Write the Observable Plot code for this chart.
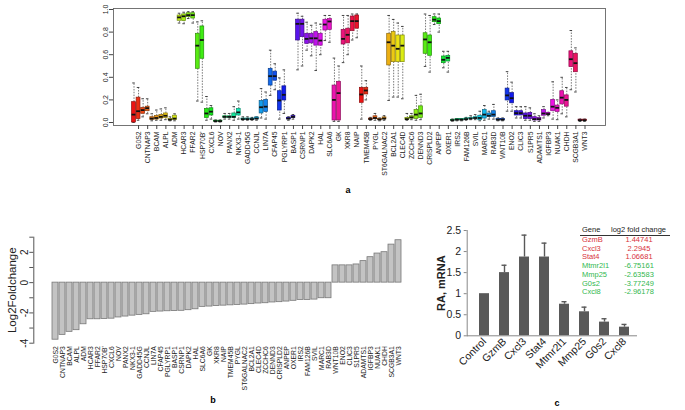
<!DOCTYPE html>
<html>
<head>
<meta charset="utf-8">
<script src="https://cdn.jsdelivr.net/npm/d3@7"></script>
<script src="https://cdn.jsdelivr.net/npm/@observablehq/plot@0.6"></script>
<style>
  body { margin: 0; background: #fff; }
  #fig { position: relative; width: 685px; height: 410px; overflow: hidden; background: #fff; font-family: "Liberation Sans", Arial, sans-serif; }
  #fig svg { position: absolute; overflow: visible; }
  .plab { position: absolute; font-weight: bold; font-size: 9px; transform: translate(-50%, -50%); }
  #tbl { position: absolute; font-size: 7.5px; }
  #tbl div { position: absolute; white-space: nowrap; transform: translateY(-50%); }
</style>
</head>
<body>
<div id="fig"></div>
<script>
// ---------- DATA ----------
const genes = ["G0S2","CNTNAP3","BCAM","ALPL","ADM","HCAR3","FFAR2","HSP70B'","CXCL6","NOV",
  "PANX2","NKX3-1","GADD45G","CCNJL","LIN7A","CFAP45","PGLYRP1","BASP1","CSRNP1","DAPK2",
  "HAL","SLC6A6","GK","XKR8","NAIP","TMEM45B","PYGL","ST6GALNAC2","BCL2A1","CLEC4D",
  "ZCCHC6","DENND3","CRISPLD2","ANPEP","OXER1","IRS2","FAM126B","SVIL","MARC1","RAB3D",
  "WNT10B","ENO2","CLIC3","S1PR5","ADAMTS1","IGFBP3","NUAK1","CHDH","SCGB3A1","WNT3"];

// panel a: box statistics, two boxes per gene (100 boxes)
const boxLo  = [0.00,0.02,0.05,0.077,0.015,0.02,0.02,0.025,0.015,0.015,
  0.88,0.874,0.92,0.88,0.19,0.18,0.02,0.03,0.005,0.005,
  0.03,0.03,0.02,0.03,0.02,0.02,0.02,0.02,0.04,0.03,
  0.24,0.29,0.03,0.08,0.02,0.03,0.466,0.50,0.64,0.59,
  0.46,0.60,0.725,0.71,0.01,0.01,0.53,0.60,0.73,0.75,
  0.03,0.20,0.02,0.02,0.015,0.02,0.195,0.225,0.225,0.21,
  0.02,0.025,0.02,0.025,0.496,0.446,0.867,0.80,0.484,0.446,
  0.012,0.015,0.015,0.02,0.025,0.025,0.015,0.02,0.03,0.03,
  0.015,0.015,0.10,0.10,0.04,0.04,0.02,0.02,0.01,0.01,
  0.04,0.06,0.03,0.025,0.077,0.05,0.29,0.27,0.01,0.01];
const boxQ1  = [0.00,0.03,0.077,0.10,0.024,0.026,0.035,0.04,0.02,0.022,
  0.90,0.897,0.932,0.92,0.475,0.564,0.04,0.062,0.008,0.008,
  0.042,0.042,0.04,0.062,0.025,0.025,0.025,0.028,0.08,0.093,
  0.327,0.37,0.106,0.195,0.028,0.04,0.726,0.755,0.696,0.70,
  0.68,0.68,0.814,0.82,0.018,0.018,0.69,0.70,0.808,0.83,
  0.174,0.248,0.025,0.03,0.022,0.028,0.505,0.534,0.534,0.534,
  0.025,0.035,0.032,0.04,0.608,0.59,0.888,0.87,0.525,0.54,
  0.016,0.02,0.02,0.025,0.03,0.033,0.02,0.035,0.05,0.05,
  0.02,0.02,0.195,0.17,0.062,0.062,0.03,0.03,0.018,0.018,
  0.06,0.068,0.10,0.093,0.16,0.14,0.49,0.445,0.015,0.015];
const boxMed = [0.07,0.10,0.11,0.127,0.035,0.04,0.05,0.06,0.025,0.035,
  0.93,0.94,0.95,0.95,0.68,0.73,0.08,0.096,0.012,0.012,
  0.05,0.05,0.05,0.09,0.03,0.03,0.03,0.035,0.135,0.14,
  0.41,0.41,0.195,0.245,0.035,0.05,0.873,0.873,0.74,0.745,
  0.745,0.725,0.867,0.894,0.20,0.26,0.74,0.776,0.897,0.897,
  0.248,0.283,0.03,0.04,0.027,0.035,0.71,0.68,0.652,0.68,
  0.03,0.045,0.07,0.08,0.735,0.71,0.91,0.897,0.555,0.572,
  0.02,0.025,0.025,0.03,0.035,0.04,0.04,0.07,0.06,0.07,
  0.025,0.025,0.24,0.215,0.083,0.083,0.06,0.06,0.03,0.03,
  0.08,0.075,0.14,0.13,0.22,0.20,0.56,0.525,0.02,0.02];
const boxQ3  = [0.18,0.22,0.13,0.14,0.047,0.058,0.067,0.08,0.03,0.06,
  0.947,0.957,0.967,0.967,0.785,0.85,0.12,0.126,0.016,0.016,
  0.055,0.055,0.08,0.12,0.035,0.035,0.035,0.045,0.19,0.20,
  0.475,0.45,0.277,0.32,0.042,0.058,0.91,0.91,0.785,0.785,
  0.80,0.785,0.909,0.915,0.327,0.36,0.82,0.83,0.938,0.947,
  0.307,0.307,0.035,0.055,0.032,0.045,0.785,0.80,0.77,0.77,
  0.04,0.055,0.11,0.143,0.79,0.77,0.932,0.92,0.584,0.59,
  0.024,0.03,0.03,0.036,0.04,0.047,0.06,0.11,0.08,0.10,
  0.03,0.03,0.30,0.26,0.10,0.10,0.08,0.085,0.047,0.04,
  0.11,0.085,0.20,0.15,0.277,0.24,0.63,0.608,0.025,0.025];
const boxHi  = [0.35,0.31,0.21,0.21,0.077,0.11,0.12,0.13,0.05,0.077,
  0.967,0.976,0.98,0.98,0.89,0.90,0.23,0.15,0.022,0.022,
  0.08,0.08,0.14,0.19,0.05,0.05,0.045,0.05,0.30,0.27,
  0.64,0.52,0.395,0.466,0.05,0.07,0.967,0.94,0.887,0.86,
  0.88,0.87,0.947,0.947,0.57,0.50,0.947,0.947,0.96,0.96,
  0.50,0.37,0.045,0.08,0.04,0.06,0.947,0.912,0.88,0.85,
  0.08,0.08,0.24,0.25,0.96,0.947,0.96,0.96,0.63,0.63,
  0.03,0.035,0.035,0.045,0.06,0.07,0.10,0.15,0.10,0.16,
  0.04,0.04,0.45,0.357,0.14,0.14,0.14,0.13,0.077,0.06,
  0.14,0.09,0.36,0.20,0.40,0.31,0.814,0.66,0.03,0.03];

// panel b: log2 fold change per gene
const log2fc = [-3.77,-3.45,-3.25,-3.14,-2.75,-2.42,-2.42,-2.40,-2.38,-2.30,
  -2.24,-2.18,-2.13,-2.09,-1.93,-1.91,-1.89,-1.88,-1.86,-1.82,
  -1.76,-1.60,-1.58,-1.54,-1.52,-1.50,-1.47,-1.45,-1.42,-1.38,
  -1.36,-1.31,-1.29,-1.25,-1.20,-1.14,-1.14,-1.12,-1.03,-1.03,
  1.14,1.14,1.14,1.20,1.42,1.68,1.92,2.01,2.51,2.80];

// panel c: qPCR relative mRNA
const qpcrGenes = ["Control","GzmB","Cxcl3","Stat4","Mtmr2l1","Mmp25","G0s2","Cxcl8"];
const qpcrMean  = [1.00,1.50,1.87,1.87,0.75,0.57,0.325,0.205];
const qpcrErrHi = [null,1.675,2.39,2.20,0.81,0.68,0.405,0.27];
const yTicksC   = [0,0.5,1,1.5,2,2.5];

// panel c inset table
const tableGenes = ["GzmB","Cxcl3","Stat4","Mtmr2l1","Mmp25","G0s2","Cxcl8"];
const tableFC    = ["1.44741","2.2945","1.06681","-6.75161","-2.63583","-3.77249","-2.96178"];

// ---------- BUILD ----------
const FONT = "Liberation Sans, Arial, sans-serif";
const fig = document.getElementById("fig");
function place(svg, left, top) { svg.style.left = left + "px"; svg.style.top = top + "px"; fig.appendChild(svg); }

// Panel a
const boxes = boxLo.map((lo, i) => {
  const hue = ((i) / 50 * 360) % 360;
  return {j: i + 1, lo, q1: boxQ1[i], med: boxMed[i], q3: boxQ3[i], hi: boxHi[i],
    fill: d3.hsl(hue, 0.85, 0.5).formatHex(), stroke: d3.hsl(hue, 0.85, 0.3).formatHex()};
});
const hw = 0.42, cw = 0.28;
const plotA = Plot.plot({
  width: 685, height: 200,
  marginLeft: 113, marginRight: 80, marginTop: 8, marginBottom: 75,
  x: {domain: [-3.5, 104.5]},
  y: {domain: [-0.0265, 1.0088]},
  color: {type: "identity"},
  style: {fontFamily: FONT, background: "transparent", color: "#222"},
  marks: [
    Plot.ruleX(boxes, {x: "j", y1: "q3", y2: "hi", stroke: "#555", strokeWidth: 0.8, strokeDasharray: "1.5,1.3"}),
    Plot.ruleX(boxes, {x: "j", y1: "lo", y2: "q1", stroke: "#555", strokeWidth: 0.8, strokeDasharray: "1.5,1.3"}),
    Plot.ruleY(boxes, {y: "hi", x1: d => d.j - cw, x2: d => d.j + cw, stroke: "#333", strokeWidth: 0.9}),
    Plot.ruleY(boxes, {y: "lo", x1: d => d.j - cw, x2: d => d.j + cw, stroke: "#333", strokeWidth: 0.9}),
    Plot.rect(boxes, {x1: d => d.j - hw, x2: d => d.j + hw, y1: "q1", y2: "q3", fill: "fill", stroke: "stroke", strokeWidth: 0.7}),
    Plot.ruleY(boxes, {y: "med", x1: d => d.j - hw, x2: d => d.j + hw, stroke: "#111", strokeWidth: 1.8}),
    Plot.frame({stroke: "#666", strokeWidth: 0.9}),
    Plot.axisY({ticks: [0, 0.2, 0.4, 0.6, 0.8, 1.0], tickFormat: d3.format(".1f"), tickRotate: -90,
      tickSize: 4, tickPadding: 2, fontSize: 7, label: null, stroke: "#444"}),
    Plot.axisX({ticks: genes.map((g, i) => 2 * i + 2), tickFormat: (d) => genes[d / 2 - 1], tickRotate: -90,
      tickSize: 4, tickPadding: 2, fontSize: 6.8, label: null, stroke: "#444"})
  ]
});
place(plotA, 0, 0);

// Panel b
const fcData = genes.map((g, i) => ({gene: g, v: log2fc[i]}));
const plotB = Plot.plot({
  width: 420, height: 210,
  marginLeft: 33.3, marginRight: 13, marginTop: 36.7, marginBottom: 67.3,
  x: {type: "band", domain: genes, range: [46.1, 407.1], paddingInner: 0.17, paddingOuter: 0.085},
  y: {domain: [-4, 3]},
  style: {fontFamily: FONT, background: "transparent", color: "#222"},
  marks: [
    Plot.barY(fcData, {x: "gene", y: "v", fill: "#c3c3c3", stroke: "#777", strokeWidth: 0.8}),
    Plot.frame({anchor: "left", stroke: "#555"}),
    Plot.axisY({ticks: d3.range(-4, 4), tickFormat: d => (d % 2 === 0 ? d : ""), tickRotate: -90,
      tickSize: 4, tickPadding: 2, fontSize: 10, label: null, stroke: "#555"}),
    Plot.axisX({tickSize: 0, tickRotate: -90, tickPadding: 3, fontSize: 6.8, label: null}),
    Plot.text(["Log2Foldchange"], {frameAnchor: "left", textAnchor: "middle", rotate: -90, dx: -21, fontSize: 11.5, fill: "#222"})
  ]
});
place(plotB, 0, 200);

// Panel c
const qData = qpcrGenes.map((g, i) => ({cat: g, v: qpcrMean[i], err: qpcrErrHi[i]}));
const qErr = qData.filter(d => d.err != null);
const plotC = Plot.plot({
  width: 265, height: 210,
  marginLeft: 46.7, marginRight: 48, marginTop: 30, marginBottom: 74.7,
  x: {type: "band", domain: qpcrGenes, range: [52.2, 216.2], paddingInner: 0.49, paddingOuter: 0.245},
  y: {domain: [0, 2.5]},
  style: {fontFamily: FONT, background: "transparent", color: "#222"},
  marks: [
    Plot.barY(qData, {x: "cat", y: "v", fill: "#595959"}),
    Plot.ruleX(qErr, {x: "cat", y1: "v", y2: "err", stroke: "#595959", strokeWidth: 1.4}),
    Plot.tickY(qErr, {x: "cat", y: "err", stroke: "#595959", strokeWidth: 1.4, insetLeft: 2.5, insetRight: 2.5}),
    Plot.ruleY([0], {stroke: "#888"}),
    Plot.frame({anchor: "left", stroke: "#888"}),
    Plot.axisY({ticks: yTicksC, tickFormat: d => String(d), tickSize: 3, tickPadding: 3, fontSize: 10.5, label: null, stroke: "#888"}),
    Plot.axisX({tickSize: 0, tickRotate: -45, tickPadding: 4, fontSize: 10.5, label: null}),
    Plot.text(["RA, mRNA"], {frameAnchor: "left", textAnchor: "middle", rotate: -90, dx: -26, fontSize: 11, fontWeight: "bold", fill: "#222"})
  ]
});
place(plotC, 420, 200);

// Inset table in panel c
const tbl = document.createElement("div");
tbl.id = "tbl";
tbl.style.left = "0px"; tbl.style.top = "0px";
function cell(txt, x, y, color, align) {
  const d = document.createElement("div");
  d.textContent = txt;
  d.style.top = y + "px";
  d.style.color = color;
  if (align === "center") { d.style.left = x + "px"; d.style.transform = "translate(-50%,-50%)"; }
  else d.style.left = x + "px";
  tbl.appendChild(d);
}
cell("Gene", 582, 229, "#222");
cell("log2 fold change", 638.5, 229, "#222", "center");
const rule = document.createElement("div");
rule.style.cssText = "left:580px;top:234.5px;width:90px;height:0;border-top:0.8px solid #333;transform:none;";
tbl.appendChild(rule);
tableGenes.forEach((g, i) => {
  const col = tableFC[i].startsWith("-") ? "#33b84f" : "#d8323c";
  const y = 238.8 + i * 8.75;
  cell(g, 582, y, col);
  cell(tableFC[i], 639, y, col, "center");
});
fig.appendChild(tbl);

// panel letters
[["a", 348, 190], ["b", 213, 400], ["c", 557, 403]].forEach(([t, x, y]) => {
  const d = document.createElement("div");
  d.className = "plab"; d.textContent = t;
  d.style.left = x + "px"; d.style.top = y + "px";
  fig.appendChild(d);
});
</script>
</body>
</html>
